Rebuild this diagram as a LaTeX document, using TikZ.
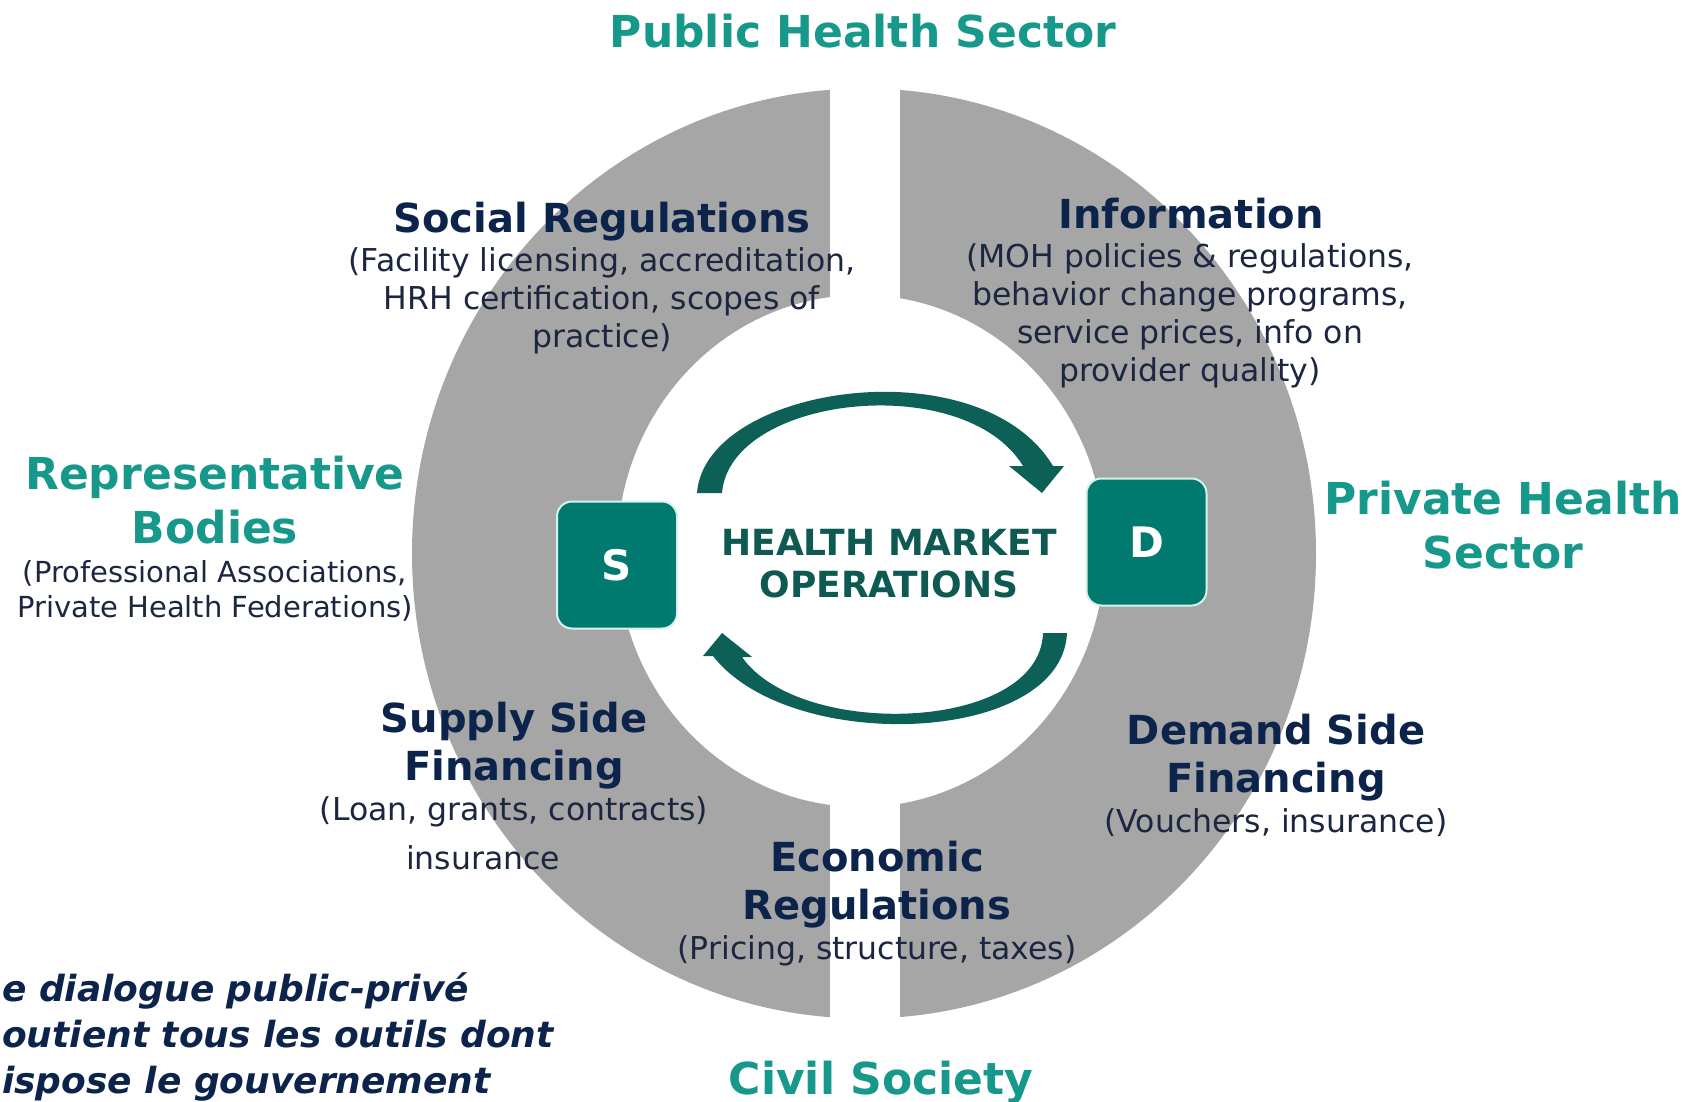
\documentclass[tikz,border=0pt]{standalone}
\usepackage{fontspec}
\setmainfont{DejaVu Sans}
\definecolor{ringgray}{RGB}{166,166,166}
\definecolor{sectorteal}{RGB}{22,152,138}
\definecolor{toolnavy}{RGB}{12,35,75}
\definecolor{detailnavy}{RGB}{28,38,64}
\definecolor{boxteal}{RGB}{0,121,111}
\definecolor{boxrim}{RGB}{215,242,238}
\definecolor{arrowteal}{RGB}{12,96,86}
\definecolor{markettext}{RGB}{14,90,82}
\begin{document}
\begin{tikzpicture}[x=1pt, y=-1pt,
	sector/.style={font=\fontsize{44}{54}\selectfont\bfseries, text=sectorteal, align=center, inner sep=0pt},
	tool/.style={font=\fontsize{40}{48}\selectfont\bfseries, text=toolnavy, align=center, inner sep=0pt},
	detail/.style={font=\fontsize{31.5}{38}\selectfont, text=detailnavy, align=center, inner sep=0pt},
	actor/.style={rounded corners=15pt, fill=boxteal, draw=boxrim, line width=2pt, minimum width=120pt, minimum height=127pt, text=white, font=\fontsize{42}{50}\selectfont\bfseries}]
		\useasboundingbox (0,0) rectangle (1686,1102);
		% Ring with the vertical gap
		\fill[ringgray, even odd rule] (864,553.5) ellipse [x radius=452pt, y radius=465pt]
			(861,551) ellipse [x radius=244pt, y radius=256pt];
		\fill[white] (830,0) rectangle (900,1102);
		% Market cycle arrows
		\fill[arrowteal] (697,493) .. controls (705,385) and (980,345) .. (1053,466) -- (1064,466) -- (1042,493)
			-- (1009,466) -- (1023,466) .. controls (965,370) and (730,395) .. (722,493) -- cycle;
		\fill[arrowteal] (1067,633) .. controls (1062,745) and (790,755) .. (713,656) -- (703,656) -- (722,633)
			-- (752,657) -- (742,657) .. controls (800,740) and (1040,732) .. (1043,633) -- cycle;
		\node[actor] (S) at (617,565) {S};
		\node[actor] (D) at (1146.5,542) {D};
		\node[font=\fontsize{36}{42}\selectfont\bfseries, text=markettext, align=center, inner sep=0pt, anchor=north] (market) at (889,529) {HEALTH MARKET\\OPERATIONS};
		% Actors around the ring
		\node[sector, anchor=base] (public) at (863,48) {Public Health Sector};
		\node[sector, anchor=north] (private) at (1503,480.6) {Private Health\\Sector};
		\node[sector, anchor=north] (bodies) at (215,455.6) {Representative\\Bodies};
		\node[detail, font=\fontsize{29}{35}\selectfont, anchor=north] (bodiesnote) at (215,560.5) {(Professional Associations,\\Private Health Federations)};
		\node[sector, anchor=base] (civil) at (881,1094) {Civil Society};
		% Government tools
		\node[tool, anchor=base] (social) at (602,232.5) {Social Regulations};
		\node[detail, anchor=north] (socialnote) at (602,247) {(Facility licensing, accreditation,\\HRH certification, scopes of\\practice)};
		\node[tool, anchor=base] (info) at (1191,228.5) {Information};
		\node[detail, anchor=north] (infonote) at (1190,243) {(MOH policies \& regulations,\\behavior change programs,\\service prices, info on\\provider quality)};
		\node[tool, anchor=north] (supply) at (514,702) {Supply Side\\Financing};
		\node[detail, anchor=base] (supplynote) at (514,820) {(Loan, grants, contracts)};
		\node[detail, anchor=base] (insurance) at (483,869) {insurance};
		\node[tool, anchor=north] (demand) at (1276,714) {Demand Side\\Financing};
		\node[detail, anchor=base] (demandnote) at (1276,832) {(Vouchers, insurance)};
		\node[tool, anchor=north] (economic) at (877,841) {Economic\\Regulations};
		\node[detail, anchor=base] (economicnote) at (877,959) {(Pricing, structure, taxes)};
		% Caption, cut at the left edge
		\node[font=\fontsize{36}{46}\selectfont\bfseries\itshape, text=toolnavy, align=left, inner sep=0pt, anchor=north west] (dialogue) at (2,972.6) {e dialogue public-privé\\outient tous les outils dont\\ispose le gouvernement};
	\end{tikzpicture}
\end{document}
